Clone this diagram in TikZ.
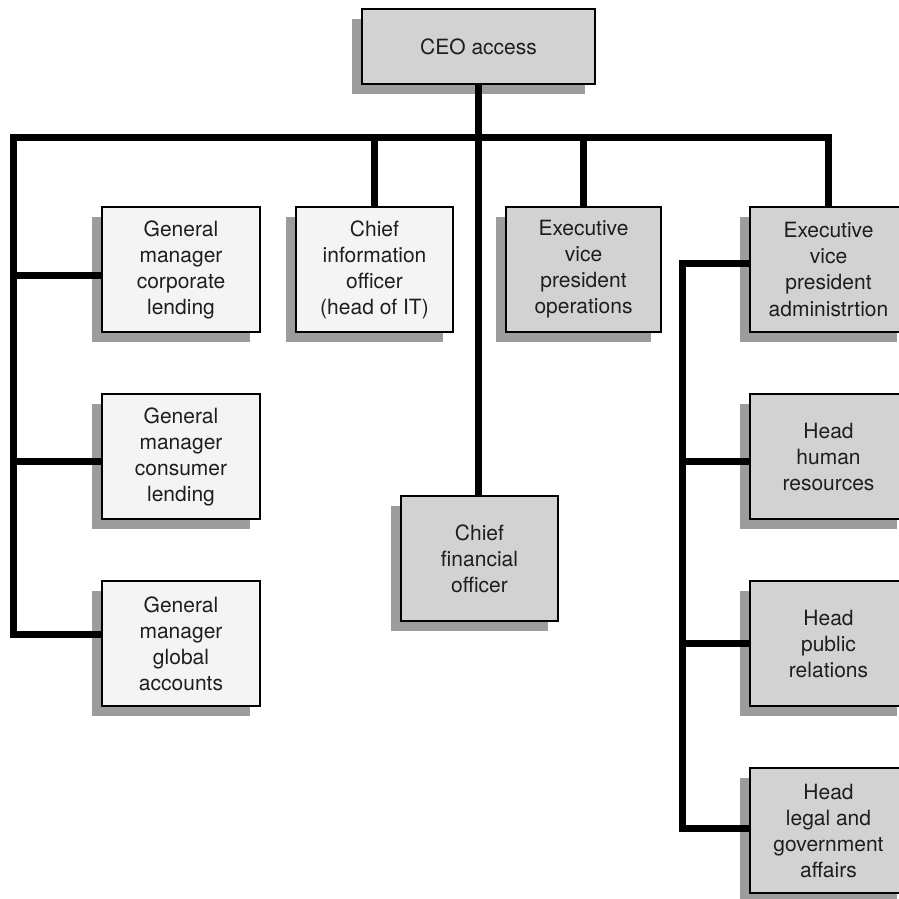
\documentclass[tikz,border=0pt]{standalone}
\usepackage{fontspec}
\setmainfont{TeX Gyre Heros}
\usepackage{tikz}
\usetikzlibrary{
        shadows,
        positioning
    }
\definecolor{boxgray}{HTML}{D2D2D2}
\definecolor{boxwhite}{HTML}{F4F4F4}
\definecolor{shadowgray}{HTML}{9C9C9C}
\definecolor{inkgray}{HTML}{1E1E1E}

\begin{document}
\begin{tikzpicture}
[x=1pt, y=-1pt,
baseshape/.style={rectangle, minimum width=157pt, minimum height=125pt, align=center, inner sep=2pt,
font=\fontsize{21pt}{26pt}\selectfont, text=inkgray, draw=black, line width=2.5pt,
drop shadow={shadow xshift=-10pt, shadow yshift=-10pt, fill=shadowgray, opacity=1}},
whitebox/.style={baseshape, fill=boxwhite},
graybox/.style={baseshape, fill=boxgray},
link/.style={line width=7pt, draw=black},
node distance=187pt,]
    \useasboundingbox (0,0) rectangle (899,899);
    \node (ceo) [graybox, minimum width=233pt, minimum height=75pt] at (478.5,46.5) {CEO access};
    \node (gm1) [whitebox, minimum width=158pt] at (181,269.5) {General\\manager\\corporate\\lending};
    \node (gm2) [whitebox, minimum width=158pt, below of=gm1] {General\\manager\\consumer\\lending};
    \node (gm3) [whitebox, minimum width=158pt, below of=gm2] {General\\manager\\global\\accounts};
    \node (cio) [whitebox] at (374.5,269.5) {Chief\\information\\officer\\(head of IT)};
    \node (evpops) [graybox, minimum width=155pt] at (583.5,269.5) {Executive\\vice\\president\\operations};
    \node (evpadm) [graybox] at (828.5,269.5) {Executive\\vice\\president\\administrtion};
    \node (cfo) [graybox] at (479.5,558.5) {Chief\\financial\\officer};
    \node (hr) [graybox, below of=evpadm] {Head\\human\\resources};
    \node (pr) [graybox, below of=hr] {Head\\public\\relations};
    \node (legal) [graybox, below of=pr] {Head\\legal and\\government\\affairs};
    \coordinate (corner) at (13,137);
    \coordinate (rcorner) at (682,263);
    \draw[link] ([yshift=9.5pt]gm3.west) -| (corner) -| (evpadm.north);
    \draw[link] ([yshift=-5.5pt]gm1.west) -| (corner);
    \draw[link] ([yshift=-4.5pt]gm2.west) -| (corner);
    \draw[link] (cio.north) -- (cio.north |- corner);
    \draw[link] (evpops.north) -- (evpops.north |- corner);
    \draw[link] (ceo.south) -- (ceo.south |- cfo.north);
    \draw[link] ([yshift=6.5pt]evpadm.west) -- (rcorner) |- ([yshift=2.5pt]legal.west);
    \draw[link] ([yshift=-4.5pt]hr.west) -| (rcorner);
    \draw[link] (pr.west) -| (rcorner);
\end{tikzpicture}
\end{document}
